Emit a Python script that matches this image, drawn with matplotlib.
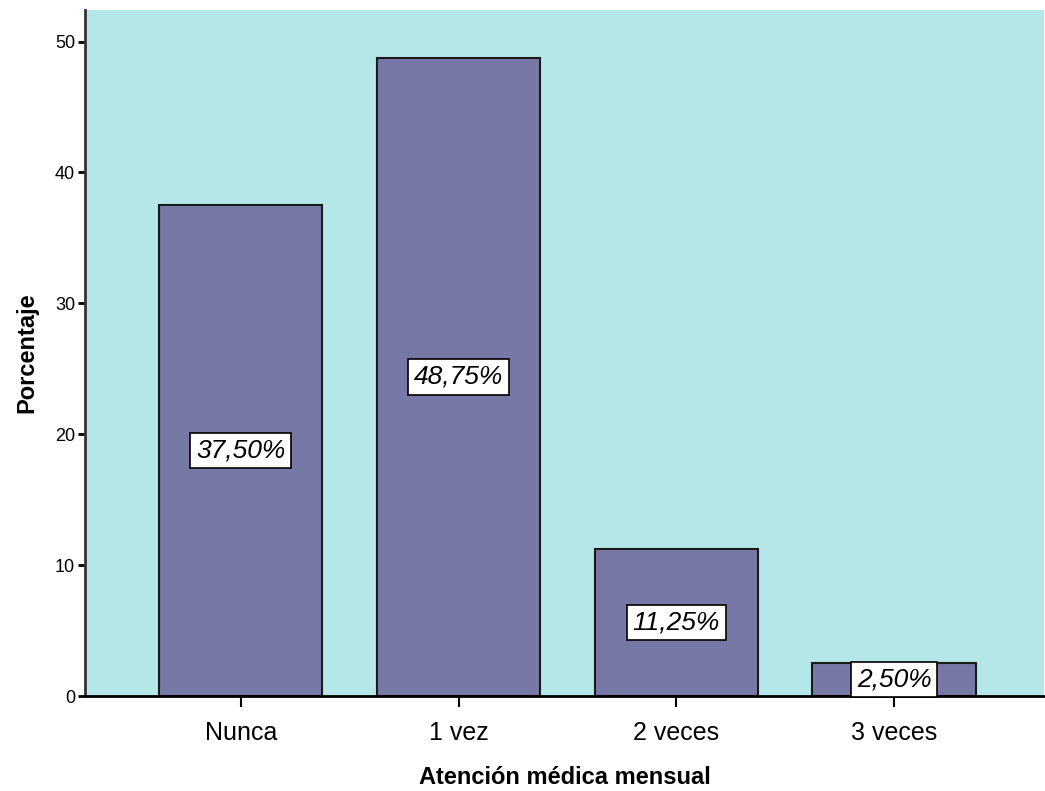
import matplotlib
matplotlib.use("Agg")
import matplotlib.pyplot as plt
import numpy as np

categories = ["Nunca", "1 vez", "2 veces", "3 veces"]
percent = [37.50, 48.75, 11.25, 2.50]
yticks = [0, 10, 20, 30, 40, 50]

bg_color = "#b5e6e8"
bar_color = "#7878a6"

fig = plt.figure(figsize=(10.45, 7.91), dpi=100)
ax = fig.add_axes([0.0813, 0.1201, 0.918, 0.867])
ax.set_facecolor(bg_color)

x_pos = np.arange(len(categories))
bars = ax.bar(x_pos, percent, width=0.75, color=bar_color, edgecolor="#1a1a1a", linewidth=1.5, zorder=2)

for xp, val in zip(x_pos, percent):
    lbl = ("%.2f%%" % val).replace(".", ",")
    ax.text(xp, val / 2, lbl, ha="center", va="center", fontsize=19, style="italic",
            fontname="Liberation Sans", zorder=3,
            bbox=dict(boxstyle="square,pad=0.22", facecolor="white", edgecolor="black", linewidth=1.2))

ax.set_xlim(-0.716, 3.69)
ax.set_ylim(0, 52.4)
ax.set_xticks(x_pos)
ax.set_xticklabels(categories, fontsize=18, fontname="Liberation Sans")
ax.set_yticks(yticks)
ax.set_yticklabels([str(t) for t in yticks], fontsize=13, fontname="Liberation Sans")
ax.tick_params(axis="x", length=8, width=1.5, pad=10)
ax.tick_params(axis="y", length=5, width=2, pad=2)

for side in ["top", "right"]:
    ax.spines[side].set_visible(False)
ax.spines["left"].set_linewidth(2)
ax.spines["left"].set_color("#333333")
ax.spines["bottom"].set_linewidth(2)

ax.set_xlabel("Atención médica mensual", fontsize=17, fontweight="bold", fontname="Liberation Sans", labelpad=15)
ax.set_ylabel("Porcentaje", fontsize=17, fontweight="bold", fontname="Liberation Sans", labelpad=12)

fig.savefig("out.png", dpi=100)
plt.close()
